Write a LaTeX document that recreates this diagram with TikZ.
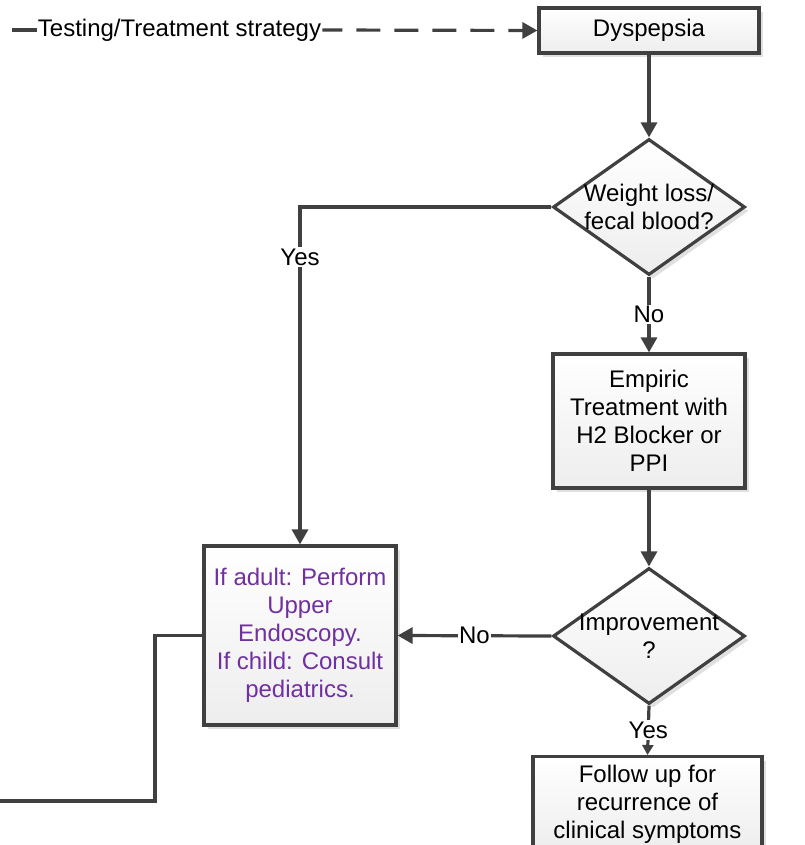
\documentclass[tikz,border=0pt]{standalone}
\usepackage{fontspec}
\setmainfont{Liberation Sans}
\usetikzlibrary{shapes.geometric,arrows.meta,shadows}
\definecolor{lineg}{HTML}{404040}
\definecolor{purp}{HTML}{7030A0}
\begin{document}
\begin{tikzpicture}[x=1pt,y=-1pt,
  font=\fontsize{24}{28}\selectfont,
  conn/.style={draw=lineg,line width=3.2pt,-{Triangle[length=15pt,width=16pt]}},
  plain/.style={draw=lineg,line width=3.2pt},
  boxshade/.style={draw=lineg,line width=3.2pt,top color=white,bottom color=gray!14,
    drop shadow={shadow xshift=4pt,shadow yshift=-4pt,opacity=0.12,fill=black}},
  stepbox/.style={boxshade,rectangle,inner sep=0pt,align=center},
  decision/.style={boxshade,diamond,inner sep=0pt,minimum width=192pt,minimum height=136pt},
  dlabel/.style={label={[yshift=-3pt]center:{\begin{tabular}{@{}c@{}}#1\end{tabular}}}},
  lbl/.style={fill=white,inner sep=1.5pt}]
\useasboundingbox (0,0) rectangle (804,845);

\node[stepbox,minimum width=220pt,minimum height=45pt] (dys) at (649,30.5) {Dyspepsia};
\node[decision,dlabel={Weight loss/\\fecal blood?}] (d1) at (649,207) {};
\node[stepbox,minimum width=192pt,minimum height=134pt] (emp) at (649,421)
  {Empiric\\Treatment with\\H2 Blocker or\\PPI};
\node[decision,dlabel={Improvement\\?}] (d2) at (649,636) {};
\node[stepbox,minimum width=192pt,minimum height=179pt,text=purp] (ad) at (300,635.5)
  {If adult: Perform\\Upper\\Endoscopy.\\If child: Consult\\pediatrics.};
\node[stepbox,minimum width=229pt,inner ysep=8pt,anchor=north] (fu) at (647.5,755)
  {Follow up for\\recurrence of\\clinical symptoms};

% top-left strategy connector
\coordinate (s) at (12,30);
\node[inner sep=1pt] (strat) at (179.5,30) {Testing/Treatment strategy};
\draw[plain] (s) -- (strat.west);
\draw[conn,dash pattern=on 24pt off 14pt,dash phase=4pt] (strat.east) -- (dys.west);

\draw[conn] (dys.south) -- (d1.north);
\draw[conn] (d1.west) -| node[lbl,pos=0.574] (yes1) {Yes} (ad.north);
\draw[conn] (d1.south) -- node[lbl] (no1) {No} (emp.north);
\draw[conn] (emp.south) -- (d2.north);
\draw[conn] (d2.west) -- node[lbl] (no2) {No} (ad.east);
\draw[draw=lineg,line width=3.2pt,-{Triangle[length=10pt,width=11pt]}] (d2.south) -- node[lbl] (yes2) {Yes} (fu.north);

\coordinate (c1) at (155,801);
\coordinate (e1) at (-2,801);
\draw[plain] (ad.west) -| (c1) -- (e1);
\end{tikzpicture}
\end{document}
